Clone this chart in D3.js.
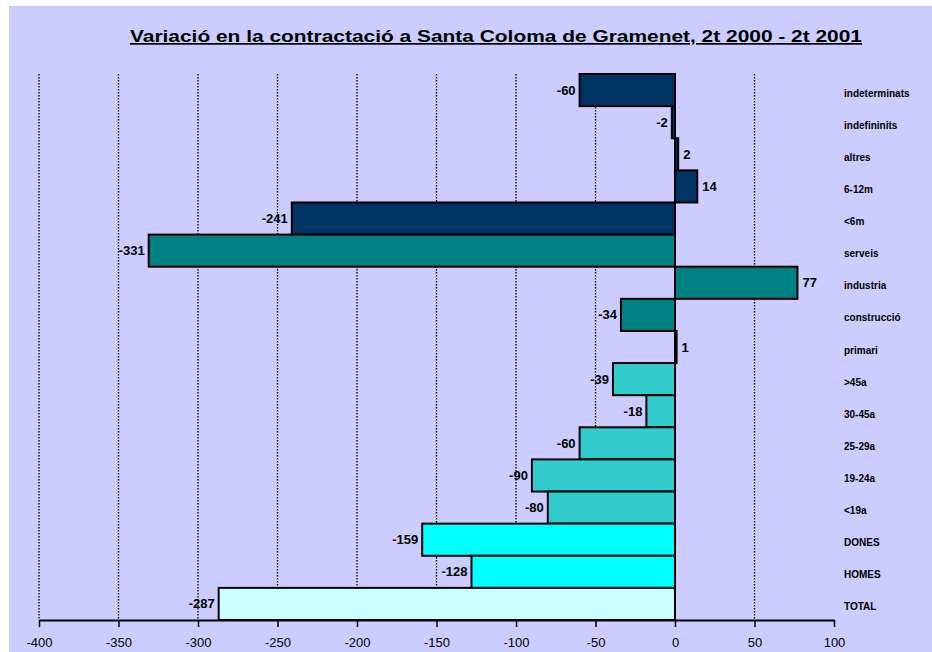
<!DOCTYPE html>
<html lang="ca">
<head>
    <meta charset="UTF-8">
    <title>Variació en la contractació</title>
    <style>
        body { margin: 0; background: #ffffff; }
        svg { display: block; }
        text { font-family: "Liberation Sans", Arial, sans-serif; fill: #000; }
    </style>
</head>
<body>
    <div id="chartContainer"></div>

    <script src="https://d3js.org/d3.v7.min.js"></script>
    <script>
        // categories from top to bottom
        const categories = ["indeterminats", "indefininits", "altres", "6-12m", "<6m",
            "serveis", "industria", "construcció", "primari",
            ">45a", "30-45a", "25-29a", "19-24a", "<19a",
            "DONES", "HOMES", "TOTAL"];
        const values = [-60, -2, 2, 14, -241, -331, 77, -34, 1, -39, -18, -60, -90, -80, -159, -128, -287];
        // group of each bar (decides fill)
        const groups = ["contracte", "contracte", "contracte", "contracte", "contracte",
            "sector", "sector", "sector", "sector",
            "edat", "edat", "edat", "edat", "edat",
            "sexe", "sexe", "total"];
        const groupNames = ["contracte", "sector", "edat", "sexe", "total"];
        const groupColors = ["#003366", "#008080", "#33CCCC", "#00FFFF", "#CCFFFF"];
        const tickValues = [-400, -350, -300, -250, -200, -150, -100, -50, 0, 50, 100];
        const title = "Variació en la contractació a Santa Coloma de Gramenet, 2t 2000 - 2t 2001";

        const W = 932, H = 652;
        const plot = {left: 39, right: 834, top: 74, bottom: 620};

        const svg = d3.select("#chartContainer")
            .append("svg")
                .attr("width", W)
                .attr("height", H);

        // chart area background
        svg.append("rect")
            .attr("x", 9).attr("y", 6)
            .attr("width", W - 9).attr("height", H - 6)
            .attr("fill", "#CCCCFF");

        // title, stretched like the original
        svg.append("text")
            .attr("x", 130).attr("y", 42)
            .attr("textLength", 732)
            .attr("lengthAdjust", "spacingAndGlyphs")
            .style("font-size", "17px")
            .style("font-weight", "bold")
            .style("text-decoration", "underline")
            .text(title);

        const x = d3.scaleLinear()
            .domain([-400, 100])
            .range([plot.left, plot.right]);

        const y = d3.scaleBand()
            .domain(categories)
            .range([plot.top, plot.bottom])
            .padding(0);

        const color = d3.scaleOrdinal().domain(groupNames).range(groupColors);

        // dotted gridlines
        svg.append("g")
            .selectAll("line")
            .data(tickValues.filter(d => d !== 0 && d !== 100))
            .join("line")
                .attr("x1", d => x(d)).attr("x2", d => x(d))
                .attr("y1", plot.top).attr("y2", plot.bottom)
                .attr("stroke", "#000")
                .attr("stroke-width", 1.3)
                .attr("stroke-dasharray", "1.5,1.5");

        const rows = categories.map((c, i) => ({cat: c, value: values[i], group: groups[i]}));

        // bars
        svg.append("g")
            .selectAll("rect")
            .data(rows)
            .join("rect")
                .attr("x", d => x(Math.min(0, d.value)))
                .attr("y", d => y(d.cat))
                .attr("width", d => Math.abs(x(d.value) - x(0)))
                .attr("height", y.bandwidth())
                .attr("fill", d => color(d.group))
                .attr("stroke", "#000")
                .attr("stroke-width", 2);

        // zero line
        svg.append("line")
            .attr("x1", x(0)).attr("x2", x(0))
            .attr("y1", plot.top).attr("y2", plot.bottom)
            .attr("stroke", "#000")
            .attr("stroke-width", 2);

        // value labels
        svg.append("g")
            .selectAll("text")
            .data(rows)
            .join("text")
                .attr("x", d => d.value < 0 ? x(d.value) - 4 : x(d.value) + 5)
                .attr("y", d => y(d.cat) + y.bandwidth() / 2)
                .attr("dy", "0.35em")
                .attr("text-anchor", d => d.value < 0 ? "end" : "start")
                .style("font-size", "13px")
                .style("font-weight", "bold")
                .text(d => d.value);

        // category labels on the right
        svg.append("g")
            .selectAll("text")
            .data(categories)
            .join("text")
                .attr("x", 844)
                .attr("y", d => y(d) + y.bandwidth() / 2 + 3)
                .attr("dy", "0.35em")
                .style("font-size", "10px")
                .style("font-weight", "bold")
                .text(d => d);

        // x axis
        const axis = svg.append("g")
            .attr("transform", "translate(0," + plot.bottom + ")")
            .call(d3.axisBottom(x).tickValues(tickValues).tickSize(7).tickSizeOuter(0)
                .tickPadding(11).tickFormat(d => String(d)));
        axis.select(".domain").attr("stroke", "#000").attr("stroke-width", 2);
        axis.selectAll(".tick line").attr("stroke", "#000").attr("stroke-width", 1.5);
        axis.selectAll(".tick text")
            .style("font-family", "'Liberation Sans', Arial, sans-serif")
            .style("font-size", "13px")
            .attr("fill", "#000");
    </script>
</body>
</html>
